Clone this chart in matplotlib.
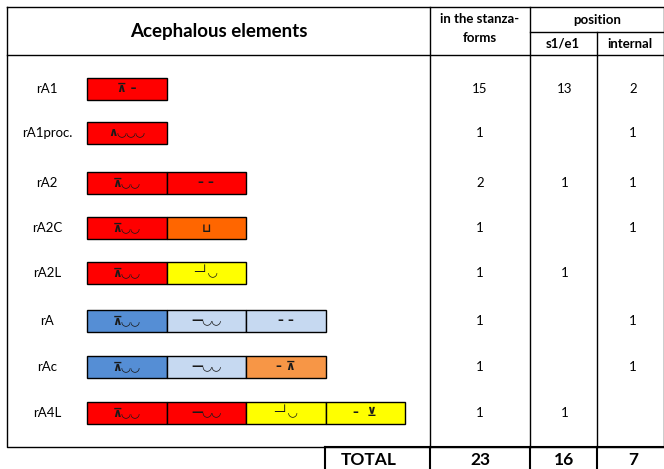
import matplotlib.pyplot as plt
from matplotlib.patches import Rectangle

plt.rcParams['font.family'] = ['Lato', 'DejaVu Sans', 'Noto Sans']

# Data
labels = ["rA1", "rA1proc.", "rA2", "rA2C", "rA2L", "rA", "rAc", "rA4L"]
segments = [
    [("⊼ –", "#FF0000")],
    [("∧◡◡◡", "#FF0000")],
    [("⊼◡◡", "#FF0000"), ("– –", "#FF0000")],
    [("⊼◡◡", "#FF0000"), ("⊔", "#FF6600")],
    [("⊼◡◡", "#FF0000"), ("─┘◡", "#FFFF00")],
    [("⊼◡◡", "#558ED5"), ("—◡◡", "#C6D9F1"), ("– –", "#C6D9F1")],
    [("⊼◡◡", "#558ED5"), ("—◡◡", "#C6D9F1"), ("– ⊼", "#F79646")],
    [("⊼◡◡", "#FF0000"), ("—◡◡", "#FF0000"), ("─┘◡", "#FFFF00"), ("–  ⊻", "#FFFF00")],
]
in_stanza = [15, 1, 2, 1, 1, 1, 1, 1]
s1e1 = [13, None, 1, None, 1, None, None, 1]
internal = [2, 1, 1, 1, None, 1, 1, None]
totals = [23, 16, 7]

row_y = [89, 133, 183, 228, 273, 321, 367, 413]

fig = plt.figure(figsize=(6.64, 4.69), dpi=100)
ax = fig.add_axes([0, 0, 1, 1])
ax.set_xlim(0, 664)
ax.set_ylim(469, 0)
ax.axis('off')

lw = 1.0
# table frame
ax.plot([7, 663.5, 663.5, 7, 7], [7, 7, 447, 447, 7], color='black', lw=lw)
ax.plot([7, 663.5], [55, 55], color='black', lw=lw)
for x in [430, 530]:
    ax.plot([x, x], [7, 447], color='black', lw=lw)
ax.plot([597, 597], [32, 447], color='black', lw=lw)
ax.plot([530, 663.5], [32, 32], color='black', lw=lw)

# total row
ax.plot([325, 325], [447, 469], color='black', lw=1.5)
for x in [430, 530, 597]:
    ax.plot([x, x], [447, 469], color='black', lw=1.5)
ax.plot([325, 663.5], [447, 447], color='black', lw=1.5)

# headers
ax.text(219, 31, "Acephalous elements", ha='center', va='center', fontsize=13.5, fontweight='bold')
ax.text(480, 19, "in the stanza-", ha='center', va='center', fontsize=9.5, fontweight='bold')
ax.text(480, 38, "forms", ha='center', va='center', fontsize=9.5, fontweight='bold')
ax.text(597, 20, "position", ha='center', va='center', fontsize=9.5, fontweight='bold')
ax.text(563, 44, "s1/e1", ha='center', va='center', fontsize=9.5, fontweight='bold')
ax.text(630, 44, "internal", ha='center', va='center', fontsize=9.5, fontweight='bold')

sym_fonts = ['DejaVu Sans', 'Noto Sans']
seg_w = 79.5
bar_h = 22
for i, lab in enumerate(labels):
    y = row_y[i]
    ax.text(47, y, lab, ha='center', va='center', fontsize=9.5)
    for j, (sym, col) in enumerate(segments[i]):
        x0 = 87 + j * seg_w
        ax.add_patch(Rectangle((x0, y - bar_h / 2), seg_w, bar_h, facecolor=col,
                               edgecolor='black', lw=1.0))
        ax.text(x0 + seg_w / 2, y, sym, ha='center', va='center', fontsize=8.5,
                family=sym_fonts, fontweight='bold', color='#1a1a1a')
    ax.text(480, y, str(in_stanza[i]), ha='center', va='center', fontsize=9.5)
    if s1e1[i] is not None:
        ax.text(565, y, str(s1e1[i]), ha='center', va='center', fontsize=9.5)
    if internal[i] is not None:
        ax.text(633, y, str(internal[i]), ha='center', va='center', fontsize=9.5)

ax.text(369, 460, "TOTAL", ha='center', va='center', fontsize=12.5, fontweight='bold')
for x, v in zip([480, 564, 633], totals):
    ax.text(x, 460, str(v), ha='center', va='center', fontsize=12.5, fontweight='bold')

fig.savefig("out.png", dpi=100)
